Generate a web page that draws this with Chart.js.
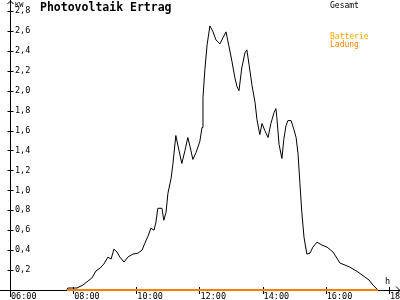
<!DOCTYPE html>
<html><head><meta charset="utf-8">
<script src="https://cdn.jsdelivr.net/npm/chart.js@4"></script>
<style>html,body{margin:0;padding:0;background:#fff;overflow:hidden}canvas{display:block}</style>
</head><body>
<canvas id="c" width="400" height="300" style="width:400px;height:300px"></canvas>
<script>
// time of day in hours
const hours = [7.77,7.80,8.09,8.28,8.44,8.56,8.69,8.82,8.94,9.07,9.17,9.26,9.36,9.45,9.58,9.70,9.86,10.02,10.15,10.24,10.34,10.43,10.53,10.59,10.65,10.78,10.84,10.91,10.97,11.07,11.13,11.22,11.32,11.41,11.51,11.60,11.67,11.76,11.86,11.98,12.05,12.08,12.14,12.21,12.30,12.40,12.49,12.62,12.71,12.81,12.90,13.00,13.09,13.16,13.22,13.31,13.41,13.47,13.54,13.63,13.73,13.79,13.88,13.95,14.04,14.14,14.23,14.33,14.39,14.42,14.49,14.58,14.64,14.71,14.77,14.87,14.96,15.03,15.09,15.15,15.21,15.28,15.37,15.47,15.56,15.69,15.85,16.01,16.20,16.32,16.42,16.58,16.73,16.99,17.21,17.34,17.46,17.62];
// Gesamt (kW)
const gesamtKW = [0,0.02,0.02,0.05,0.09,0.12,0.19,0.22,0.26,0.33,0.31,0.41,0.38,0.33,0.28,0.33,0.36,0.37,0.40,0.47,0.54,0.62,0.60,0.68,0.82,0.82,0.70,0.78,0.97,1.12,1.27,1.55,1.40,1.27,1.40,1.53,1.44,1.31,1.38,1.49,1.63,1.93,2.21,2.46,2.65,2.59,2.51,2.47,2.53,2.59,2.45,2.29,2.13,2.04,2.00,2.23,2.38,2.41,2.26,2.06,1.88,1.71,1.56,1.67,1.60,1.53,1.67,1.78,1.82,1.73,1.46,1.32,1.51,1.65,1.70,1.70,1.61,1.53,1.37,1.07,0.78,0.53,0.36,0.37,0.43,0.48,0.45,0.43,0.38,0.32,0.27,0.25,0.23,0.18,0.13,0.10,0.05,0];
// Batterie Ladung (kW)
const ladungHours = [7.77, 17.62];
const ladungKW = [0, 0];
// axis ticks
const yTickValues = [0.2,0.4,0.6,0.8,1.0,1.2,1.4,1.6,1.8,2.0,2.2,2.4,2.6,2.8];
const xTickHours = [6,8,10,12,14,16,18];

const FONT = "'DejaVu Sans Mono', 'Liberation Mono', monospace";
const ORANGE = '#ff8000';

const decor = {
  id: 'decor',
  beforeDatasetsDraw(chart) {
    const ctx = chart.ctx, xs = chart.scales.x, ys = chart.scales.y;
    const x0 = Math.round(xs.getPixelForValue(6)), y0 = Math.round(ys.getPixelForValue(0));
    ctx.save();
    ctx.strokeStyle = '#000'; ctx.lineWidth = 1;
    ctx.beginPath();
    // x axis
    ctx.moveTo(0, y0 + 0.5); ctx.lineTo(400, y0 + 0.5);
    ctx.moveTo(396, y0 - 3.5); ctx.lineTo(400, y0 + 0.5); ctx.lineTo(396, y0 + 4.5);
    // y axis
    ctx.moveTo(x0 - 0.5, 0); ctx.lineTo(x0 - 0.5, 297);
    ctx.moveTo(x0 - 3.5, 4); ctx.lineTo(x0 - 0.5, 1); ctx.lineTo(x0 + 2.5, 4);
    ys.ticks.forEach(t => { const p = Math.round(ys.getPixelForValue(t.value)) + 0.5; ctx.moveTo(x0 - 3.5, p); ctx.lineTo(x0 + 2.5, p); });
    xs.ticks.forEach(t => { const p = Math.round(xs.getPixelForValue(t.value)) - 0.5; ctx.moveTo(p, y0 - 3); ctx.lineTo(p, y0 + 4); });
    ctx.stroke();
    ctx.restore();
  },
  afterDraw(chart) {
    const ctx = chart.ctx;
    ctx.save();
    ctx.textBaseline = 'alphabetic'; ctx.textAlign = 'left';
    ctx.fillStyle = '#000';
    ctx.font = 'bold 11.5px ' + FONT;
    ctx.fillText('Photovoltaik Ertrag', 40, 11);
    ctx.font = '7px ' + FONT;
    ctx.fillText('KW', 15, 7);
    ctx.font = '8px ' + FONT;
    ctx.fillText('Gesamt', 330, 8);
    ctx.fillStyle = '#ffa800';
    ctx.fillText('Batterie', 330, 39);
    ctx.fillStyle = ORANGE;
    ctx.fillText('Ladung', 330, 47);
    ctx.fillStyle = '#000';
    ctx.font = '8.5px ' + FONT;
    ctx.fillText('h', 385, 284);
    ctx.restore();
  }
};

new Chart(document.getElementById('c'), {
  type: 'line',
  data: {
    datasets: [
      { label: 'Batterie Ladung', data: ladungHours.map((h, i) => ({x: h, y: ladungKW[i]})),
        borderColor: ORANGE, borderWidth: 2, pointRadius: 0, tension: 0, order: 0, clip: false },
      { label: 'Gesamt', data: hours.map((h, i) => ({x: h, y: gesamtKW[i]})),
        borderColor: '#000', borderWidth: 1, pointRadius: 0, tension: 0, order: 1 }
    ]
  },
  options: {
    responsive: false, animation: false, devicePixelRatio: 1,
    layout: { padding: { left: 11, right: 0, top: 0, bottom: 0 } },
    plugins: { legend: { display: false }, tooltip: { enabled: false }, title: { display: false } },
    scales: {
      x: {
        type: 'linear', min: 6, max: 18.32,
        afterBuildTicks: s => { s.ticks = xTickHours.map(v => ({ value: v })); },
        afterFit: s => { s.height = 10; s.paddingLeft = 0; s.paddingRight = 0; s.paddingTop = 0; s.paddingBottom = 0; },
        grid: { display: false, drawTicks: false },
        border: { display: false },
        ticks: { autoSkip: false, maxRotation: 0, align: 'start', padding: 2, color: '#000',
          font: { family: FONT, size: 8.5 },
          callback: v => String(v).padStart(2, '0') + ':00' }
      },
      y: {
        type: 'linear', min: 0, max: 2.91,
        afterBuildTicks: s => { s.ticks = yTickValues.map(v => ({ value: v })); },
        afterFit: s => { s.width = 0; s.paddingTop = 0; s.paddingBottom = 0; s.paddingLeft = 0; s.paddingRight = 0; },
        grid: { display: false, drawTicks: false },
        border: { display: false },
        ticks: { mirror: true, padding: 4, color: '#000',
          font: { family: FONT, size: 8.5 },
          callback: v => v.toFixed(1).replace('.', ',') }
      }
    }
  },
  plugins: [decor]
});
</script>
</body></html>
